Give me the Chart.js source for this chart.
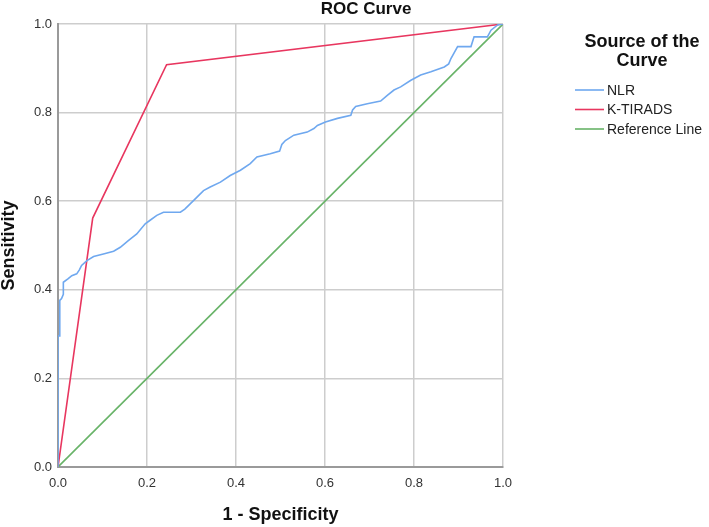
<!DOCTYPE html>
<html>
<head>
<meta charset="utf-8">
<script src="https://cdn.jsdelivr.net/npm/chart.js@4"></script>
<style>
html,body{margin:0;padding:0;background:#fff;}
#wrap{width:709px;height:527px;position:relative;}
</style>
</head>
<body>
<div id="wrap"><canvas id="c" width="709" height="527"></canvas></div>
<script>
// ---- data ----
const seriesNames = ["NLR", "K-TIRADS", "Reference Line"];
const tickValues = [0.0, 0.2, 0.4, 0.6, 0.8, 1.0];

const nlrFpr = [0,0,0.004,0.004,0.008,0.012,0.012,0.023,0.031,0.042,0.048,0.053,0.065,0.08,0.102,0.125,0.14,0.158,0.177,0.196,0.207,0.222,0.237,0.275,0.285,0.297,0.305,0.327,0.342,0.365,0.387,0.41,0.432,0.447,0.477,0.498,0.503,0.511,0.53,0.56,0.575,0.583,0.601,0.628,0.658,0.662,0.669,0.695,0.725,0.74,0.755,0.77,0.793,0.815,0.838,0.868,0.878,0.883,0.898,0.928,0.935,0.965,0.973,0.988,1];
const nlrTpr = [0,0.296,0.296,0.376,0.38,0.39,0.417,0.425,0.432,0.436,0.445,0.455,0.466,0.475,0.481,0.487,0.496,0.511,0.526,0.549,0.557,0.568,0.575,0.575,0.582,0.594,0.602,0.624,0.632,0.643,0.658,0.67,0.685,0.70,0.707,0.713,0.728,0.737,0.749,0.756,0.764,0.771,0.779,0.787,0.794,0.806,0.814,0.82,0.826,0.839,0.851,0.858,0.873,0.885,0.892,0.903,0.91,0.922,0.949,0.949,0.971,0.971,0.986,0.998,1];

const ktiradsFpr = [0, 0.078, 0.244, 1];
const ktiradsTpr = [0, 0.562, 0.908, 1];

const refFpr = [0, 1];
const refTpr = [0, 1];

const colors = ["#6fa8ef", "#e8365f", "#68b368"];

function pts(xs, ys){ return xs.map((x,i)=>({x:x, y:ys[i]})); }

const legendPlugin = {
  id: 'customText',
  afterDraw(chart){
    const ctx = chart.ctx;
    ctx.save();
    ctx.fillStyle = '#111';
    ctx.font = 'bold 17px "Liberation Sans", Arial, sans-serif';
    ctx.textAlign = 'center';
    ctx.textBaseline = 'middle';
    ctx.fillText('ROC Curve', 366, 9);
    ctx.font = 'bold 18px "Liberation Sans", Arial, sans-serif';
    ctx.fillText('Source of the', 642, 42);
    ctx.fillText('Curve', 642, 61);
    ctx.font = '14px "Liberation Sans", Arial, sans-serif';
    ctx.textAlign = 'left';
    const ys = [90, 109.5, 129];
    chart.data.datasets.forEach((ds, i) => {
      ctx.strokeStyle = ds.borderColor;
      ctx.lineWidth = 1.6;
      ctx.beginPath();
      ctx.moveTo(575, ys[i]);
      ctx.lineTo(604, ys[i]);
      ctx.stroke();
      ctx.fillStyle = '#222';
      ctx.fillText(ds.label, 607, ys[i] + 1);
    });
    ctx.restore();
  }
};

new Chart(document.getElementById('c'), {
  type: 'line',
  data: {
    datasets: [
      { label: seriesNames[0], data: pts(nlrFpr, nlrTpr), borderColor: colors[0], borderWidth: 1.6, pointRadius: 0, tension: 0, fill: false },
      { label: seriesNames[1], data: pts(ktiradsFpr, ktiradsTpr), borderColor: colors[1], borderWidth: 1.6, pointRadius: 0, tension: 0, fill: false },
      { label: seriesNames[2], data: pts(refFpr, refTpr), borderColor: colors[2], borderWidth: 1.6, pointRadius: 0, tension: 0, fill: false }
    ]
  },
  options: {
    responsive: false,
    animation: false,
    layout: { padding: { top: 24, right: 206, left: 0, bottom: 0 } },
    plugins: { legend: { display: false }, title: { display: false }, tooltip: { enabled: false } },
    scales: {
      x: {
        type: 'linear', min: 0, max: 1,
        afterBuildTicks(scale){ scale.ticks = tickValues.map(v => ({value: v})); },
        afterFit(scale){ scale.height = 60; },
        ticks: { padding: 9, color: '#333', font: { size: 13, family: '"Liberation Sans", Arial, sans-serif' }, callback: v => Number(v).toFixed(1), maxRotation: 0 },
        grid: { color: '#cdcdcd', lineWidth: 1.5, drawTicks: false },
        border: { color: '#9a9a9a', width: 2 },
        title: { display: true, text: '1 - Specificity', color: '#111', font: { size: 18, weight: 'bold', family: '"Liberation Sans", Arial, sans-serif', lineHeight: 1 }, padding: { top: 0, bottom: 3 } }
      },
      y: {
        type: 'linear', min: 0, max: 1,
        afterBuildTicks(scale){ scale.ticks = tickValues.map(v => ({value: v})); },
        afterFit(scale){ scale.width = 58; },
        ticks: { padding: 6, color: '#333', font: { size: 13, family: '"Liberation Sans", Arial, sans-serif' }, callback: v => Number(v).toFixed(1) },
        grid: { color: '#cdcdcd', lineWidth: 1.5, drawTicks: false },
        border: { color: '#9a9a9a', width: 2 },
        title: { display: true, text: 'Sensitivity', color: '#111', font: { size: 18, weight: 'bold', family: '"Liberation Sans", Arial, sans-serif', lineHeight: 1 }, padding: { top: 0, bottom: 0 } }
      }
    }
  },
  plugins: [legendPlugin]
});
</script>
</body>
</html>
